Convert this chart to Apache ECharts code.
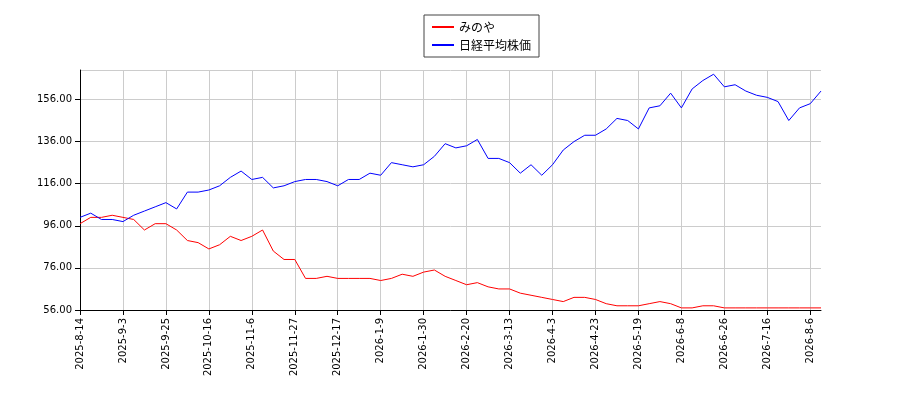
<!DOCTYPE html>
<html><head><meta charset="utf-8">
<script src="https://cdn.jsdelivr.net/npm/echarts@6/dist/echarts.min.js"></script>
<style>body{margin:0}#c{width:900px;height:400px}</style></head>
<body><div id="c"></div>
<script>
const tickLabels = ["2025-8-14","2025-9-3","2025-9-25","2025-10-16","2025-11-6","2025-11-27","2025-12-17","2026-1-9","2026-1-30","2026-2-20","2026-3-13","2026-4-3","2026-4-23","2026-5-19","2026-6-8","2026-6-26","2026-7-16","2026-8-6"];
const nikkei = [100,102,99,99, 98,101,103,105, 107,104,112,112, 113,115,119,122, 118,119,114,115, 117,118,118,117, 115,118,118,121, 120,126,125,124, 125,129,135,133, 134,137,128,128, 126,121,125,120, 125,132,136,139, 139,142,147,146, 142,152,153,159, 152,161,165,168, 162,163,160,158, 157,155,146,152, 154,160];
const minoya = [97,100,100,101, 100,99,94,97, 97,94,89,88, 85,87,91,89, 91,94,84,80, 80,71,71,72, 71,71,71,71, 70,71,73,72, 74,75,72,70, 68,69,67,66, 66,64,63,62, 61,60,62,62, 61,59,58,58, 58,59,60,59, 57,57,58,58, 57,57,57,57, 57,57,57,57, 57,57];
const categories = [];
for (let i = 0; i < nikkei.length; i++) {
  categories.push(i % 4 === 0 ? tickLabels[i/4] : (tickLabels[Math.floor(i/4)] + "+" + (i%4)));
}
const chart = echarts.init(document.getElementById('c'));
chart.setOption({
  animation:false,
  legend:{top:15,left:424,orient:'vertical',itemWidth:22,itemHeight:2,itemGap:6,
    borderColor:'#444',borderWidth:1,padding:[6,8],borderRadius:0,
    textStyle:{fontSize:12,color:'#000',fontFamily:'Noto Sans CJK JP'},
    data:[{name:'みのや',icon:'rect'},{name:'日経平均株価',icon:'rect'}]},
  grid:{left:80,right:79,top:70,bottom:90},
  xAxis:{type:'category',boundaryGap:false,data:categories,
    axisLine:{lineStyle:{color:'#000'}},
    axisTick:{interval:3,lineStyle:{color:'#000'}},
    axisLabel:{interval:3,rotate:90,color:'#000',fontSize:10,fontFamily:'DejaVu Sans'},
    splitLine:{show:true,interval:3,lineStyle:{color:'#ccc'}}},
  yAxis:{type:'value',min:56,max:170,interval:20,
    axisLine:{show:true,lineStyle:{color:'#000'}},
    axisTick:{show:true,lineStyle:{color:'#000'}},
    axisLabel:{color:'#000',fontSize:10,fontFamily:'DejaVu Sans',showMaxLabel:false,formatter:v=>v.toFixed(2)},
    splitLine:{lineStyle:{color:'#ccc'}}},
  series:[
    {name:'みのや',type:'line',data:minoya,symbol:'none',lineStyle:{width:1,color:'#ff0000'},itemStyle:{color:'#ff0000'}},
    {name:'日経平均株価',type:'line',data:nikkei,symbol:'none',lineStyle:{width:1,color:'#0000ff'},itemStyle:{color:'#0000ff'}}
  ]
});
</script></body></html>
